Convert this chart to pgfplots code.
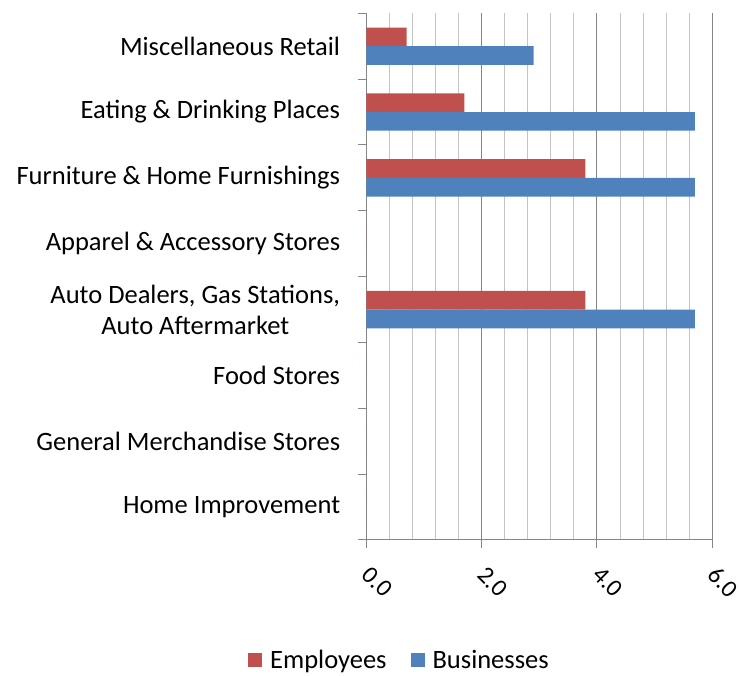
\documentclass[border=0pt]{standalone}
\usepackage{fontspec}
\setmainfont{Carlito}
\usepackage{pgfplots}
\pgfplotsset{compat=1.18}
\definecolor{emp}{HTML}{C0504D}
\definecolor{bus}{HTML}{4F81BD}
\definecolor{axgray}{HTML}{868686}
\definecolor{mingray}{HTML}{C4C4C4}
\begin{document}
\begin{tikzpicture}
\useasboundingbox (-366.3pt,-136pt) rectangle (372.7pt,540pt);
\begin{axis}[
  at={(0pt,0pt)}, anchor=south west,
  scale only axis, width=346pt, height=526.7pt,
  xbar, bar width=0.284,
  xmin=0, xmax=6, ymin=-0.5, ymax=7.5,
  axis x line*=bottom, axis y line*=left,
  axis line style={-, draw=axgray, line width=1pt},
  xtick={0,2,4,6}, minor x tick num=4,
  xmajorgrids, xminorgrids,
  major grid style={draw=axgray, line width=1pt},
  minor grid style={draw=mingray, line width=0.9pt},
  ytick={0,...,7}, minor ytick={-0.5,0.5,...,7.5},
  yticklabels={Home Improvement, General Merchandise Stores, Food Stores, {Auto Dealers, Gas Stations,\\Auto Aftermarket}, Apparel \& Accessory Stores, Furniture \& Home Furnishings, Eating \& Drinking Places, Miscellaneous Retail},
  yticklabel style={align=center, font=\fontsize{26.5}{31}\selectfont, anchor=east, inner sep=0pt, xshift=-18pt},
  tick align=outside, major tick length=8pt, minor tick length=8pt,
  tick style={draw=axgray, line width=1pt},
  major y tick style={draw=none},
  minor x tick style={draw=none},
  /pgf/number format/assume math mode=true,
  xticklabel style={font=\fontsize{24.5}{29}\selectfont, yshift=-23pt, rotate=-45, anchor=west, inner sep=0pt, /pgf/number format/.cd, fixed, fixed zerofill, precision=1},
  legend style={at={(0.0959,-0.2278)}, anchor=center, draw=none, legend columns=2, font=\fontsize{26.5}{31}\selectfont, /tikz/every even column/.append style={column sep=22pt}},
  legend image code/.code={\fill[#1] (0pt,-7pt) rectangle (14pt,7pt); \path (20pt,0pt);},
]
\addplot[fill=emp, draw=none, bar shift=0.142] coordinates {(0.7,7) (1.7,6) (3.8,5) (0,4) (3.8,3) (0,2) (0,1) (0,0)};
\addplot[fill=bus, draw=none, bar shift=-0.142] coordinates {(2.9,7) (5.7,6) (5.7,5) (0,4) (5.7,3) (0,2) (0,1) (0,0)};
\legend{Employees, Businesses}
\end{axis}
\end{tikzpicture}
\end{document}
